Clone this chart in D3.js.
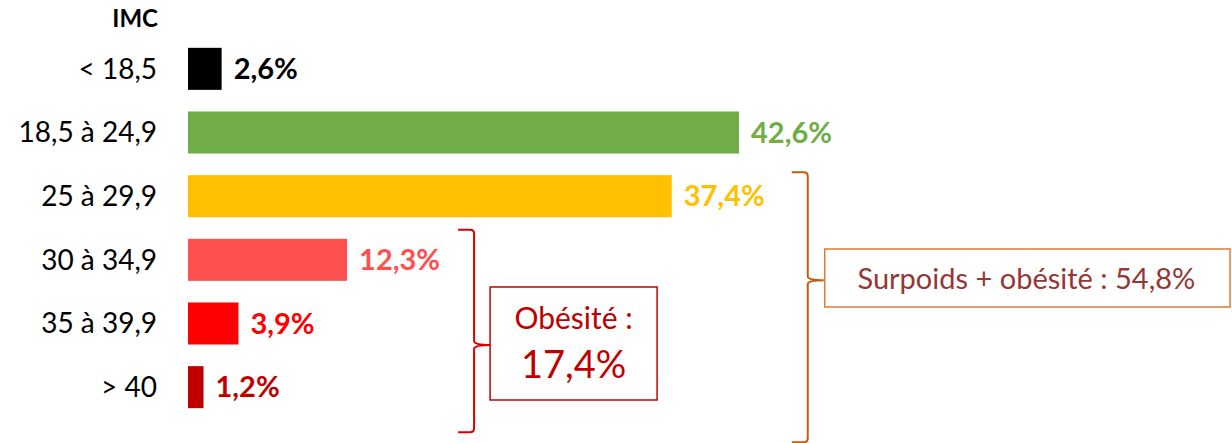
<!DOCTYPE html>
<html>
<head>
<meta charset="utf-8">
<script src="https://cdn.jsdelivr.net/npm/d3@7"></script>
<style>
  body { margin: 0; background: #fff; }
  svg { display: block; font-family: Lato, "Open Sans", sans-serif; }
</style>
</head>
<body>
<script>
// data
var categories = ["< 18,5", "18,5 à 24,9", "25 à 29,9", "30 à 34,9", "35 à 39,9", "> 40"];
var values = [2.6, 42.6, 37.4, 12.3, 3.9, 1.2];
var barColors = ["#000000", "#70AD47", "#FFC000", "#FF5050", "#FF0000", "#C00000"];

// groups shown with braces
var groupLabels = [["Obésité :", "17,4%"], ["Surpoids + obésité : 54,8%"]];
var groupStart = ["30 à 34,9", "25 à 29,9"];

var width = 1232, height = 443;

var svg = d3.select("body").append("svg")
    .attr("width", width)
    .attr("height", height);

var x = d3.scaleLinear()
    .domain([0, d3.max(values)])
    .range([188, 739]);

var y = d3.scaleBand()
    .domain(categories)
    .range([37, 419])
    .paddingInner(0.34)
    .paddingOuter(0.17);

var rows = categories.map(function (c, i) {
    return { cat: c, val: values[i], color: barColors[i] };
});

function fmt(v) {
    return v.toFixed(1).replace(".", ",") + "%";
}

// header
svg.append("text")
    .attr("x", 158)
    .attr("y", 27)
    .attr("text-anchor", "end")
    .style("font-size", "24px")
    .style("font-weight", "bold")
    .text("IMC");

// category labels
svg.selectAll(".cat")
    .data(rows)
    .enter()
    .append("text")
    .attr("class", "cat")
    .attr("x", 157)
    .attr("y", function (d) { return y(d.cat) + y.bandwidth() / 2; })
    .attr("dy", "0.35em")
    .attr("text-anchor", "end")
    .style("font-size", "28px")
    .style("fill", "#000")
    .text(function (d) { return d.cat; });

// bars
svg.selectAll(".bar")
    .data(rows)
    .enter()
    .append("rect")
    .attr("class", "bar")
    .attr("x", x(0))
    .attr("y", function (d) { return y(d.cat); })
    .attr("width", function (d) { return x(d.val) - x(0); })
    .attr("height", y.bandwidth())
    .style("fill", function (d) { return d.color; });

// value labels
svg.selectAll(".val")
    .data(rows)
    .enter()
    .append("text")
    .attr("class", "val")
    .attr("x", function (d) { return x(d.val) + 12; })
    .attr("y", function (d) { return y(d.cat) + y.bandwidth() / 2; })
    .attr("dy", "0.35em")
    .style("font-size", "29px")
    .style("font-weight", "bold")
    .style("fill", function (d) { return d.color; })
    .text(function (d) { return fmt(d.val); });

// brace "}" path: top, middle point, bottom
function brace(bx, top, bottom, tip, pt) {
    var mid = (top + bottom) / 2 + pt;
    var r = 4;
    return "M" + (bx - tip) + "," + top +
        " L" + (bx - r) + "," + top +
        " Q" + bx + "," + top + " " + bx + "," + (top + r) +
        " L" + bx + "," + (mid - r) +
        " Q" + bx + "," + mid + " " + (bx + tip) + "," + mid +
        " Q" + bx + "," + mid + " " + bx + "," + (mid + r) +
        " L" + bx + "," + (bottom - r) +
        " Q" + bx + "," + bottom + " " + (bx - r) + "," + bottom +
        " L" + (bx - tip) + "," + bottom;
}

var lastCat = categories[categories.length - 1];

// obésité brace + box
var ob = groupStart[0];
var obX = x(values[categories.indexOf(ob)]) + 127;
var obTop = y(ob) - 9, obBot = y(lastCat) + y.bandwidth() + 24;
svg.append("path")
    .attr("d", brace(obX, obTop, obBot, 16, 14))
    .style("fill", "none")
    .style("stroke", "#D90000")
    .style("stroke-width", 2);

svg.append("rect")
    .attr("x", obX + 16)
    .attr("y", 287)
    .attr("width", 167)
    .attr("height", 113)
    .style("fill", "#fff")
    .style("stroke", "#C00000")
    .style("stroke-width", 1.5);

svg.append("text")
    .attr("x", obX + 16 + 83.5)
    .attr("y", 329)
    .attr("text-anchor", "middle")
    .style("font-size", "30px")
    .style("fill", "#C00000")
    .text(groupLabels[0][0]);

svg.append("text")
    .attr("x", obX + 16 + 83.5)
    .attr("y", 378)
    .attr("text-anchor", "middle")
    .style("font-size", "38px")
    .style("fill", "#C00000")
    .text(groupLabels[0][1]);

// surpoids brace + box
var sp = groupStart[1];
var spX = x(values[categories.indexOf(sp)]) + 136;
var spTop = y(sp) - 3, spBot = y(lastCat) + y.bandwidth() + 34;
svg.append("path")
    .attr("d", brace(spX, spTop, spBot, 16, -27))
    .style("fill", "none")
    .style("stroke", "#C55A11")
    .style("stroke-width", 2);

svg.append("rect")
    .attr("x", spX + 17)
    .attr("y", 249)
    .attr("width", 1230 - spX - 17)
    .attr("height", 58)
    .style("fill", "#fff")
    .style("stroke", "#E07B39")
    .style("stroke-width", 1.5);

svg.append("text")
    .attr("x", (spX + 17 + 1230) / 2 - 1)
    .attr("y", 289)
    .attr("text-anchor", "middle")
    .style("font-size", "29px")
    .style("fill", "#953735")
    .text(groupLabels[1][0]);
</script>
</body>
</html>
